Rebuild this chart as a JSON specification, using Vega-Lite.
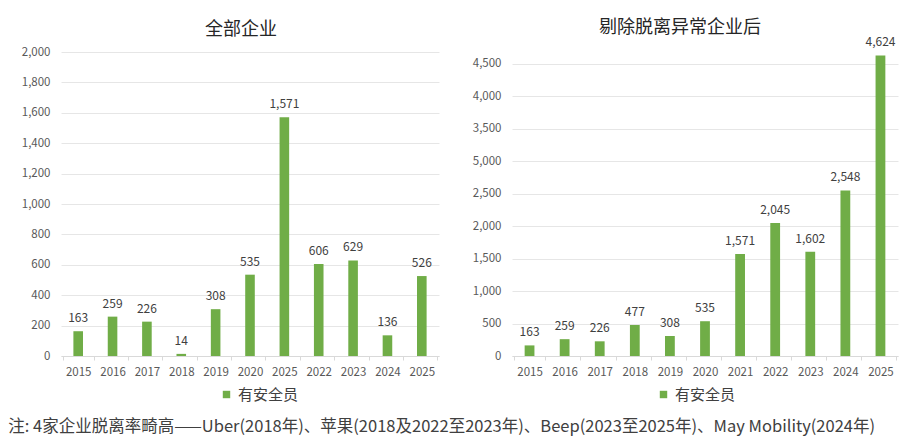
{
  "$schema": "https://vega.github.io/schema/vega-lite/v6.json",
  "padding": {"left": 8, "top": 19, "right": 5, "bottom": 5},
  "background": "white",
  "config": {
    "font": "Noto Sans CJK SC",
    "view": {"stroke": null},
    "axis": {
      "labelColor": "#595959",
      "labelFontSize": 11.5,
      "titleColor": "#595959"
    }
  },
  "title": {
    "text": "注: 4家企业脱离率畸高——Uber(2018年)、苹果(2018及2022至2023年)、Beep(2023至2025年)、May Mobility(2024年)",
    "orient": "bottom",
    "anchor": "start",
    "frame": "bounds",
    "fontSize": 16.5,
    "fontWeight": "normal",
    "color": "#404040",
    "offset": 16,
    "dx": -13
  },
  "datasets": {
    "all": [
      {"slot": "2015", "value": 163},
      {"slot": "2016", "value": 259},
      {"slot": "2017", "value": 226},
      {"slot": "2018", "value": 14},
      {"slot": "2019", "value": 308},
      {"slot": "2020", "value": 535},
      {"slot": "2025a", "value": 1571},
      {"slot": "2022", "value": 606},
      {"slot": "2023", "value": 629},
      {"slot": "2024", "value": 136},
      {"slot": "2025", "value": 526}
    ],
    "filtered": [
      {"slot": "2015", "value": 163},
      {"slot": "2016", "value": 259},
      {"slot": "2017", "value": 226},
      {"slot": "2018", "value": 477},
      {"slot": "2019", "value": 308},
      {"slot": "2020", "value": 535},
      {"slot": "2021", "value": 1571},
      {"slot": "2022", "value": 2045},
      {"slot": "2023", "value": 1602},
      {"slot": "2024", "value": 2548},
      {"slot": "2025", "value": 4624}
    ]
  },
  "spacing": 33,
  "resolve": {
    "scale": {"color": "independent", "y": "independent"},
    "legend": {"color": "independent"}
  },
  "hconcat": [
    {
      "width": 378,
      "height": 304,
      "data": {"name": "all"},
      "title": {
        "text": "全部企业",
        "fontSize": 18,
        "fontWeight": "normal",
        "color": "#262626",
        "offset": 7,
        "dx": -9
      },
      "encoding": {
        "x": {
          "field": "slot",
          "type": "nominal",
          "sort": null,
          "axis": {
            "title": null,
            "labelAngle": 0,
            "labelExpr": "slice(datum.label, 0, 4)",
            "tickBand": "extent",
            "tickSize": 4,
            "tickColor": "#d9d9d9",
            "domainColor": "#d9d9d9",
            "labelPadding": 6
          }
        },
        "y": {
          "field": "value",
          "type": "quantitative",
          "scale": {"domain": [0, 2000], "nice": false},
          "axis": {
            "title": null,
            "values": [0, 200, 400, 600, 800, 1000, 1200, 1400, 1600, 1800, 2000],
            "labelExpr": "format(datum.value, ',')",
            "domain": false,
            "ticks": false,
            "labelPadding": 11,
            "gridColor": "#e6e6e6"
          }
        }
      },
      "layer": [
        {
          "mark": {"type": "bar", "width": {"band": 0.31}},
          "encoding": {
            "color": {
              "datum": "有安全员",
              "scale": {"range": ["#70ad47"]},
              "legend": {
                "title": null,
                "orient": "none",
                "legendX": 158,
                "legendY": 335,
                "symbolType": "square",
                "symbolSize": 55,
                "symbolStrokeWidth": 0,
                "labelFontSize": 15,
                "labelColor": "#404040",
                "labelOffset": 4
              }
            }
          }
        },
        {
          "mark": {"type": "text", "baseline": "bottom", "dy": -6, "fontSize": 12, "color": "#404040"},
          "encoding": {
            "text": {"field": "value", "type": "quantitative", "format": ","}
          }
        }
      ]
    },
    {
      "width": 386,
      "height": 304,
      "data": {"name": "filtered"},
      "title": {
        "text": "剔除脱离异常企业后",
        "fontSize": 18,
        "fontWeight": "normal",
        "color": "#262626",
        "offset": -1,
        "dx": -25
      },
      "encoding": {
        "x": {
          "field": "slot",
          "type": "nominal",
          "sort": null,
          "axis": {
            "title": null,
            "labelAngle": 0,
            "tickBand": "extent",
            "tickSize": 4,
            "tickColor": "#d9d9d9",
            "domainColor": "#d9d9d9",
            "labelPadding": 6
          }
        },
        "y": {
          "field": "value",
          "type": "quantitative",
          "scale": {"domain": [0, 4677], "nice": false},
          "axis": {
            "title": null,
            "values": [0, 500, 1000, 1500, 2000, 2500, 3000, 3500, 4000, 4500],
            "labelExpr": "datum.value == 3000 ? '5,000' : format(datum.value, ',')",
            "domain": false,
            "ticks": false,
            "labelPadding": 11,
            "gridColor": "#e6e6e6"
          }
        }
      },
      "layer": [
        {
          "mark": {"type": "bar", "width": {"band": 0.31}},
          "encoding": {
            "color": {
              "datum": "有安全员",
              "scale": {"range": ["#70ad47"]},
              "legend": {
                "title": null,
                "orient": "none",
                "legendX": 144,
                "legendY": 335,
                "symbolType": "square",
                "symbolSize": 55,
                "symbolStrokeWidth": 0,
                "labelFontSize": 15,
                "labelColor": "#404040",
                "labelOffset": 4
              }
            }
          }
        },
        {
          "mark": {"type": "text", "baseline": "bottom", "dy": -6, "fontSize": 12, "color": "#404040"},
          "encoding": {
            "text": {"field": "value", "type": "quantitative", "format": ","}
          }
        }
      ]
    }
  ]
}
